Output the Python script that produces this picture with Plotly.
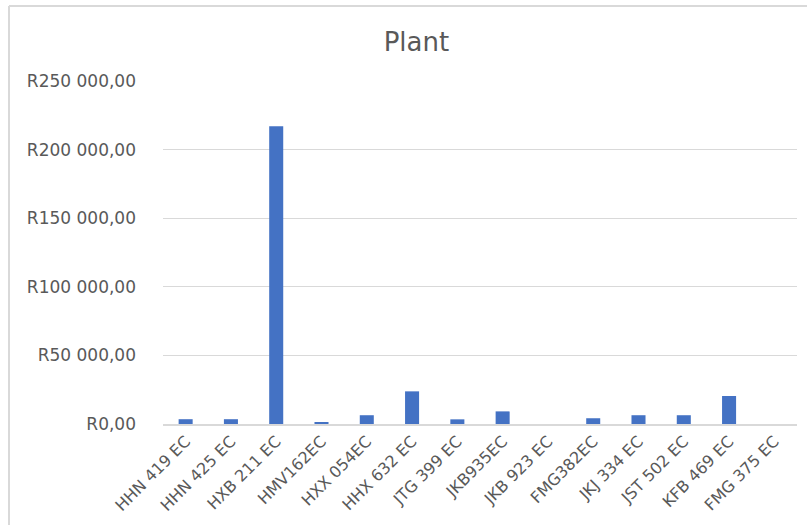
import plotly.graph_objects as go

# Plant cost per vehicle registration
categories = ["HHN 419 EC", "HHN 425 EC", "HXB 211 EC", "HMV162EC", "HXX 054EC",
              "HHX 632 EC", "JTG 399 EC", "JKB935EC", "JKB 923 EC", "FMG382EC",
              "JKJ 334 EC", "JST 502 EC", "KFB 469 EC", "FMG 375 EC"]
values = [3500, 3500, 217000, 1200, 6400, 23800, 3400, 9200, 0, 4200,
          6400, 6400, 20400, 0]

tick_vals = [0, 50000, 100000, 150000, 200000, 250000]
tick_text = ["R0,00", "R50 000,00", "R100 000,00", "R150 000,00",
             "R200 000,00", "R250 000,00"]

W, H = 807, 525
ML, MR, MT, MB = 163, 10, 81, 101
PW, PH = W - ML - MR, H - MT - MB

def px(x):
    return (x - ML) / PW

def py(y):
    return (H - MB - y) / PH

grey = "#595959"
fig = go.Figure(go.Bar(x=categories, y=values, marker_color="#4472C4",
                       marker_line_width=0))

fig.update_layout(
    width=W, height=H,
    margin=dict(l=ML, r=MR, t=MT, b=MB),
    paper_bgcolor="white", plot_bgcolor="white",
    font=dict(family="DejaVu Sans", color=grey, size=16),
    bargap=0.69,
    showlegend=False,
    title=dict(text="Plant", x=0.516, xanchor="center", y=0.92, yanchor="middle",
               font=dict(size=26, color=grey)),
    xaxis=dict(tickangle=-45, showgrid=False, showline=True, linecolor="#d9d9d9",
               linewidth=1.5, ticks="", tickfont=dict(size=16, color=grey)),
    yaxis=dict(range=[0, 250000], tickvals=tick_vals, ticktext=tick_text,
               showgrid=True, gridcolor="#d9d9d9", gridwidth=1, zeroline=False,
               showline=False, ticks="", ticklabelstandoff=26,
               tickfont=dict(size=17, color=grey)),
    shapes=[
        dict(type="line", xref="paper", yref="paper", x0=px(9), x1=px(9),
             y0=py(530), y1=py(6), line=dict(color="#d9d9d9", width=2)),
        dict(type="line", xref="paper", yref="paper", x0=px(9), x1=px(812),
             y0=py(6), y1=py(6), line=dict(color="#d9d9d9", width=2)),
    ],
)

fig.write_html("out.html")
